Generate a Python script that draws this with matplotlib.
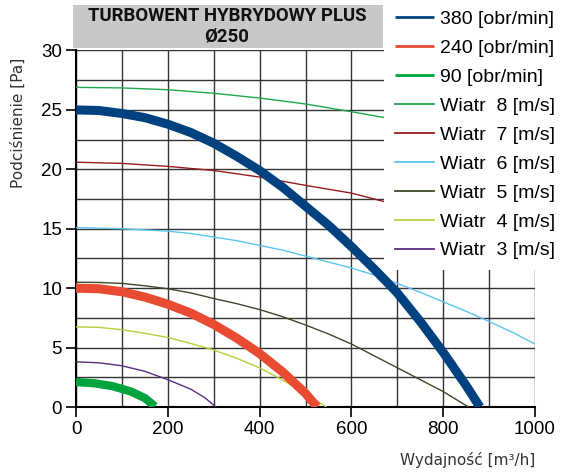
import matplotlib
matplotlib.use('Agg')
import matplotlib.pyplot as plt
from matplotlib.patches import Rectangle

# odczyty z wykresu
x380 = [0, 50, 100, 150, 200, 250, 300, 350, 400, 450, 500, 550, 600, 650, 700, 750, 800, 850, 880]
y380 = [25.0, 24.95, 24.7, 24.35, 23.8, 23.1, 22.2, 21.1, 19.9, 18.5, 16.9, 15.3, 13.5, 11.6, 9.6, 7.2, 4.6, 1.8, 0.0]

x240 = [0, 50, 100, 150, 200, 250, 300, 350, 400, 450, 500, 525]
y240 = [10.0, 9.95, 9.7, 9.25, 8.65, 7.9, 6.95, 5.8, 4.5, 2.95, 1.15, 0.0]

x90 = [0, 40, 80, 120, 150, 172]
y90 = [2.1, 2.0, 1.75, 1.3, 0.75, 0.05]

xw8 = [0, 100, 200, 300, 400, 500, 600, 680, 720]
yw8 = [26.9, 26.85, 26.7, 26.4, 26.0, 25.5, 24.85, 24.3, 24.0]

xw7 = [0, 100, 200, 300, 400, 500, 600, 700, 720]
yw7 = [20.6, 20.5, 20.25, 19.9, 19.35, 18.65, 18.0, 17.0, 16.8]

xw6 = [0, 100, 200, 250, 300, 350, 400, 450, 500, 550, 600, 650, 700, 750, 800, 850, 900, 950, 1000]
yw6 = [15.1, 15.0, 14.8, 14.6, 14.3, 14.0, 13.6, 13.2, 12.7, 12.2, 11.7, 11.1, 10.4, 9.65, 8.85, 8.05, 7.2, 6.3, 5.3]

xw5 = [0, 50, 100, 150, 200, 250, 300, 350, 400, 450, 500, 550, 600, 650, 700, 750, 800, 855]
yw5 = [10.5, 10.48, 10.4, 10.2, 9.95, 9.6, 9.13, 8.7, 8.2, 7.6, 6.9, 6.15, 5.3, 4.3, 3.3, 2.3, 1.3, 0.0]

xw4 = [0, 50, 100, 150, 200, 250, 300, 350, 400, 450, 500, 545]
yw4 = [6.75, 6.7, 6.5, 6.2, 5.85, 5.35, 4.8, 4.1, 3.3, 2.27, 1.15, 0.0]

xw3 = [0, 50, 100, 150, 200, 250, 280, 305]
yw3 = [3.8, 3.72, 3.47, 3.0, 2.3, 1.5, 0.8, 0.0]

fig = plt.figure(figsize=(5.71, 4.73), dpi=100)
ax = fig.add_axes([76/571, 1-407/473, (535-76)/571, (407-50.5)/473])

# wiatr - cienkie linie
ax.plot(xw8, yw8, color='#1fa84a', lw=1.0, label='Wiatr  8 [m/s]', zorder=3)
ax.plot(xw7, yw7, color='#9b1b1f', lw=1.0, label='Wiatr  7 [m/s]', zorder=3)
ax.plot(xw6, yw6, color='#5bc5f2', lw=1.0, label='Wiatr  6 [m/s]', zorder=3)
ax.plot(xw5, yw5, color='#3a4a28', lw=1.0, label='Wiatr  5 [m/s]', zorder=3)
ax.plot(xw4, yw4, color='#b6cf3a', lw=1.0, label='Wiatr  4 [m/s]', zorder=3)
ax.plot(xw3, yw3, color='#5a2d82', lw=1.0, label='Wiatr  3 [m/s]', zorder=3)

# obroty - grube linie
ax.plot(x380, y380, color='#00427f', lw=6.5, solid_capstyle='butt', label='380 [obr/min]', zorder=4)
ax.plot(x240, y240, color='#e84a32', lw=6.5, solid_capstyle='butt', label='240 [obr/min]', zorder=4)
ax.plot(x90, y90, color='#00a33c', lw=6.0, solid_capstyle='butt', label='90 [obr/min]', zorder=4)

ax.set_xlim(0, 1000)
ax.set_ylim(0, 30)
ax.set_xticks(range(0, 1001, 200))
ax.set_yticks(range(0, 31, 5))
ax.set_xticks(range(0, 1001, 100), minor=True)
ax.set_yticks([i * 2.5 for i in range(13)], minor=True)
ax.grid(True, which='both', color='#333333', lw=1.0, zorder=1)
ax.set_axisbelow(True)
for s in ['top', 'right']:
    ax.spines[s].set_visible(False)
ax.spines['left'].set_linewidth(1.5)
ax.spines['bottom'].set_linewidth(1.5)
ax.tick_params(which='major', direction='out', length=7, width=1.2, labelsize=13.5, pad=3)
ax.tick_params(which='minor', length=0)
for lab in ax.get_xticklabels() + ax.get_yticklabels():
    lab.set_family('Liberation Sans')

handles, labels = ax.get_legend_handles_labels()
order = [6, 7, 8, 0, 1, 2, 3, 4, 5]
leg = ax.legend([handles[i] for i in order], [labels[i] for i in order],
                loc='upper left', bbox_to_anchor=(384/571, 1.0), bbox_transform=fig.transFigure,
                frameon=True, fancybox=False, framealpha=1, edgecolor='none', facecolor='white',
                borderaxespad=0, borderpad=0.55, labelspacing=0.58, handlelength=2.0,
                handletextpad=0.33, prop={'family': 'Liberation Sans', 'size': 14})
for i, ln in enumerate(leg.get_lines()):
    ln.set_linewidth(2.0 if i < 3 else 1.3)
leg.set_zorder(10)

# naglowek
fig.patches.append(Rectangle((73/571, 1-47.7/473), (383-73)/571, (47.7-5)/473,
                             transform=fig.transFigure, facecolor='#c8c8c8', edgecolor='none'))
fig.text(227/571, 1-26.5/473, 'TURBOWENT HYBRYDOWY PLUS\nØ250', ha='center', va='center',
         fontsize=13.4, fontweight='bold', family='Roboto', color='#111111', linespacing=1.2)

fig.text(18/571, 1-123/473, 'Podciśnienie [Pa]', rotation=90, ha='center', va='center',
         fontsize=11, color='#333333')
fig.text(535/571, 1-460/473, 'Wydajność [m³/h]', ha='right', va='center',
         fontsize=11, color='#333333')

fig.savefig('out.png', dpi=100)
